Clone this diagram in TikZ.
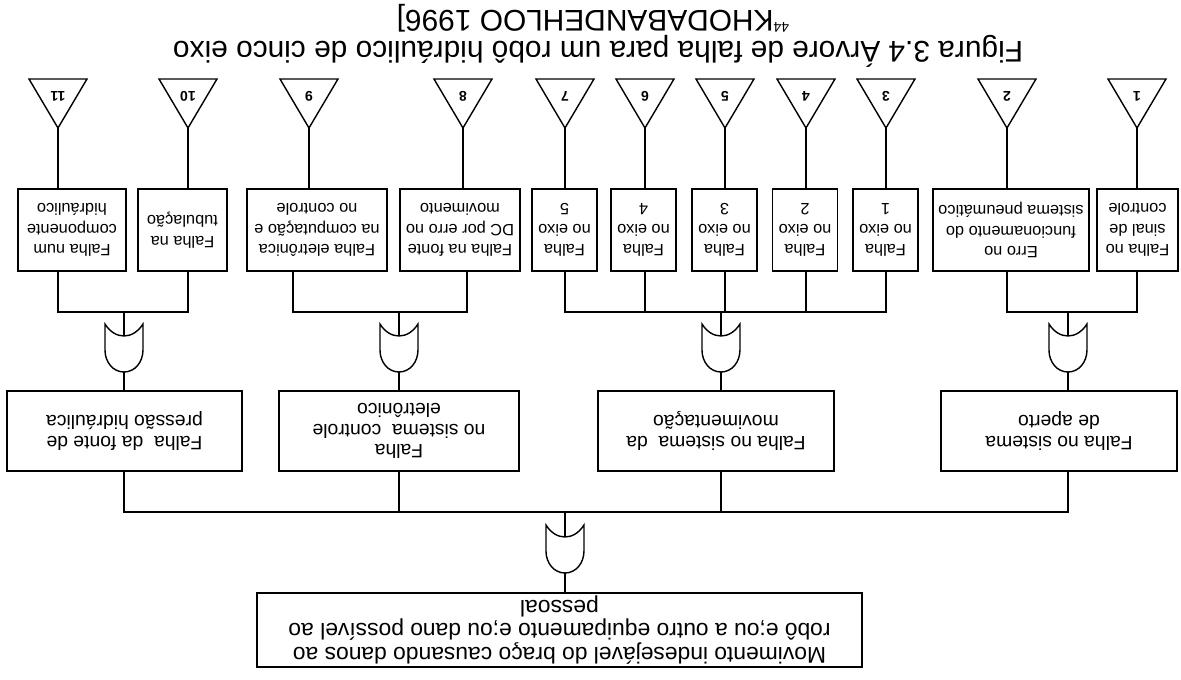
\documentclass[tikz,border=0pt]{standalone}
\usepackage{fontspec}
\setmainfont{Liberation Sans}
\usepackage{tikz}
\usetikzlibrary{calc}
\tikzset{
  wire/.style   = {line width=0.8pt},
  evbox/.style  = {rectangle, draw, line width=0.8pt, align=center,
                   inner sep=1pt, minimum height=1.64cm,
                   font=\fontsize{9.3}{11.8}\selectfont},
  sysbox/.style = {rectangle, draw, line width=0.8pt, align=center,
                   inner sep=1pt, minimum height=1.6cm,
                   font=\fontsize{11}{11.9}\selectfont},
  topbox/.style = {rectangle, draw, line width=0.8pt, align=center,
                   inner sep=1pt, minimum width=12.1cm, minimum height=1.48cm,
                   font=\fontsize{13}{13.4}\selectfont},
  capt/.style   = {font=\fontsize{17}{17}\selectfont, inner sep=0pt, anchor=base},
  numtxt/.style = {font=\fontsize{8}{9}\selectfont\bfseries, inner sep=0pt},
  pics/orgate/.style = {code={
    \draw[wire] (0,0) .. controls (11,0) and (19,10) .. (19,22) -- (19,48)
      .. controls (9,32) and (-9,32) .. (-19,48) -- (-19,22)
      .. controls (-19,10) and (-11,0) .. cycle;
    \coordinate (-out) at (0,0);
    \coordinate (-in) at (0,36);
  }},
  pics/transfer/.style = {code={
    \draw[wire] (0,0) -- (29,49) -- (-29,49) -- cycle;
    \coordinate (-apex) at (0,0);
    \node[numtxt] (-num) at (0,32) {#1};
  }},
}

\begin{document}
\begin{tikzpicture}[x=0.02cm, y=-0.02cm]
\begin{scope}[rotate=180, transform shape]
  \useasboundingbox (0,0) rectangle (1181,680);

  % top event
  \node[topbox] (top) at (621.5,50)
    {Movimento indesejável do braço causando danos ao\\
     robô e;ou a outro equipamento e;ou dano possível ao\\
     pessoal};
  \pic (gT) at (616,107) {orgate};
  \coordinate (busT) at (616,168);

  % sub-systems
  \node[sysbox, minimum width=4.72cm] (sA) at (122,249) {Falha no sistema\\de aperto};
  \node[sysbox, minimum width=4.72cm] (sB) at (465,249) {Falha no sistema~ da\\movimentação};
  \node[sysbox, minimum width=4.80cm] (sC) at (782,249) {Falha\\no sistema~ controle\\eletrônico};
  \node[sysbox, minimum width=4.70cm] (sD) at (1056.5,249) {Falha~ da fonte de\\pressão hidráulica};

  \pic (gA) at (113,308) {orgate};
  \pic (gB) at (460,308) {orgate};
  \pic (gC) at (782,308) {orgate};
  \pic (gD) at (1057,308) {orgate};
  \coordinate (busA) at (113,368);
  \coordinate (busB) at (460,368);
  \coordinate (busC) at (782,368);
  \coordinate (busD) at (1057,368);

  % basic events
  \node[evbox, minimum width=1.62cm] (e1) at (43.5,450) {Falha no\\sinal de\\controle};
  \node[evbox, minimum width=3.12cm] (e2) at (170,450) {Erro no\\funcionamento do\\sistema pneumático};
  \node[evbox, minimum width=1.30cm] (e3) at (295.5,450) {Falha\\no eixo\\1};
  \node[evbox, minimum width=1.30cm] (e4) at (376,450) {Falha\\no eixo\\2};
  \node[evbox, minimum width=1.30cm] (e5) at (456.5,450) {Falha\\no eixo\\3};
  \node[evbox, minimum width=1.30cm] (e6) at (537.5,450) {Falha\\no eixo\\4};
  \node[evbox, minimum width=1.30cm] (e7) at (616.5,450) {Falha\\no eixo\\5};
  \node[evbox, minimum width=2.40cm] (e8) at (721,450) {Falha na fonte\\DC por erro no\\movimento};
  \node[evbox, minimum width=2.80cm] (e9) at (864,450) {Falha eletrônica\\na computação e\\no controle};
  \node[evbox, minimum width=1.78cm] (e10) at (998.5,450) {Falha na\\tubulação};
  \node[evbox, minimum width=2.16cm] (e11) at (1109,450) {Falha num\\componente\\hidráulico};

  % transfer triangles
  \pic (t1) at (44,552) {transfer=1};
  \pic (t2) at (174,552) {transfer=2};
  \pic (t3) at (295,552) {transfer=3};
  \pic (t4) at (375,552) {transfer=4};
  \pic (t5) at (456,552) {transfer=5};
  \pic (t6) at (536,552) {transfer=6};
  \pic (t7) at (616,552) {transfer=7};
  \pic (t8) at (718,552) {transfer=8};
  \pic (t9) at (872,552) {transfer=9};
  \pic (t10) at (993,552) {transfer=10};
  \pic (t11) at (1123,552) {transfer=11};

  % caption
  \node[capt] (fig) at (583,638)
    {Figura 3.4 Árvore de falha para um robô hidráulico de cinco eixo};
  \node[capt] (ref) at (588,669)
    {\raisebox{6.4pt}{\fontsize{8}{8}\selectfont 44}KHODABANDEHLOO 1996]};

  % connections
  \draw[wire] (gT-out) -- (gT-out |- top.south);
  \draw[wire] (gT-in) -- (busT);
  \draw[wire] (gA-out |- sA.north) |- (busT);
  \draw[wire] (gD-out |- sD.north) |- (busT);
  \draw[wire] (gB-out |- sB.north) -- (gB-out |- busT);
  \draw[wire] (gC-out |- sC.north) -- (gC-out |- busT);

  \draw[wire] (gA-out) -- (gA-out |- sA.south);
  \draw[wire] (gB-out) -- (gB-out |- sB.south);
  \draw[wire] (gC-out) -- (gC-out |- sC.south);
  \draw[wire] (gD-out) -- (gD-out |- sD.south);
  \draw[wire] (gA-in) -- (busA);
  \draw[wire] (gB-in) -- (busB);
  \draw[wire] (gC-in) -- (busC);
  \draw[wire] (gD-in) -- (busD);

  \draw[wire] (t1-apex |- e1.north) |- (busA) -| (t2-apex |- e2.north);
  \draw[wire] (t3-apex |- e3.north) |- (busB) -| (t7-apex |- e7.north);
  \draw[wire] (t4-apex |- e4.north) -- (t4-apex |- busB);
  \draw[wire] (t5-apex |- e5.north) -- (t5-apex |- busB);
  \draw[wire] (t6-apex |- e6.north) -- (t6-apex |- busB);
  \draw[wire] ($(t8-apex |- e8.north)+(-4,0)$) |- (busC) -| ($(t9-apex |- e9.north)+(16,0)$);
  \draw[wire] (t10-apex |- e10.north) |- (busD) -| (t11-apex |- e11.north);

  \draw[wire] (t1-apex) -- (t1-apex |- e1.south);
  \draw[wire] (t2-apex) -- (t2-apex |- e2.south);
  \draw[wire] (t3-apex) -- (t3-apex |- e3.south);
  \draw[wire] (t4-apex) -- (t4-apex |- e4.south);
  \draw[wire] (t5-apex) -- (t5-apex |- e5.south);
  \draw[wire] (t6-apex) -- (t6-apex |- e6.south);
  \draw[wire] (t7-apex) -- (t7-apex |- e7.south);
  \draw[wire] (t8-apex) -- (t8-apex |- e8.south);
  \draw[wire] (t9-apex) -- (t9-apex |- e9.south);
  \draw[wire] (t10-apex) -- (t10-apex |- e10.south);
  \draw[wire] (t11-apex) -- (t11-apex |- e11.south);
\end{scope}
\end{tikzpicture}
\end{document}
